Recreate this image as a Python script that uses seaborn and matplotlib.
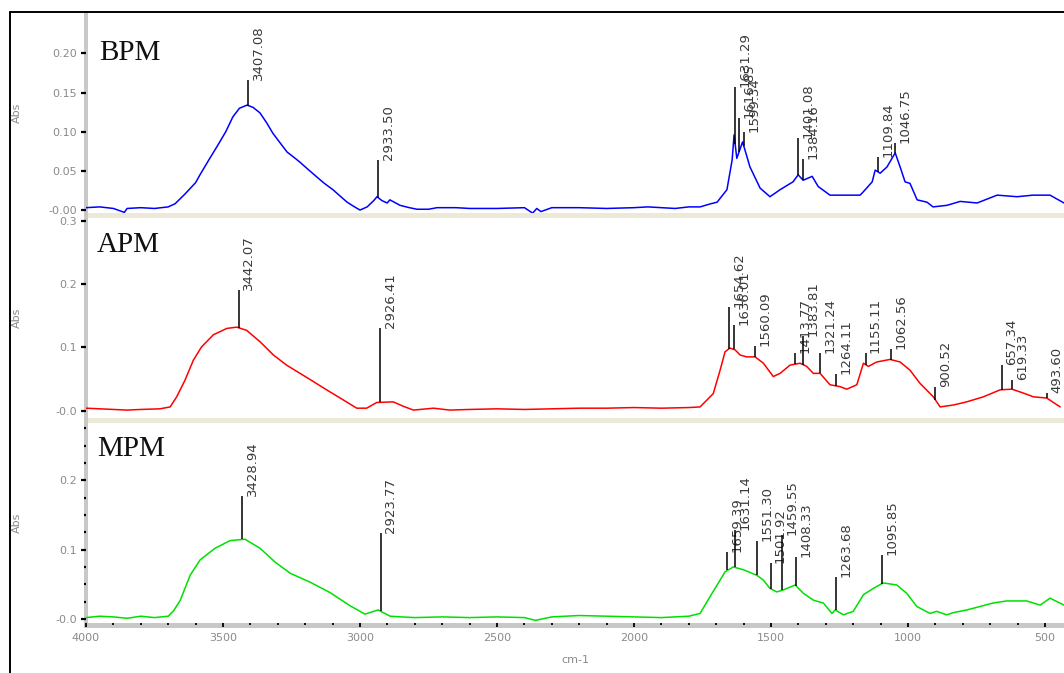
import numpy as np
import pandas as pd
import matplotlib
matplotlib.use("Agg")
import matplotlib.pyplot as plt
import seaborn as sns
from matplotlib.patches import Rectangle
from matplotlib.lines import Line2D
from matplotlib.ticker import FixedLocator, FixedFormatter, MultipleLocator

# ---------------- data ----------------
bpm_wn = [4000, 3950, 3900, 3860, 3850, 3800, 3750, 3700, 3675, 3640, 3600, 3584, 3550, 3522,
          3490, 3464, 3440, 3412, 3390, 3365, 3340, 3318, 3290, 3266, 3240, 3219, 3190, 3157,
          3130, 3099, 3070, 3047, 3020, 3000, 2974, 2950, 2938, 2920, 2901, 2891, 2870, 2854,
          2820, 2792, 2750, 2719, 2650, 2600, 2500, 2400, 2370, 2355, 2340, 2300, 2200, 2100,
          2000, 1950, 1900, 1850, 1800, 1759, 1720, 1697, 1661, 1642, 1635, 1625, 1604, 1577,
          1540, 1504, 1467, 1420, 1401, 1383, 1350, 1328, 1285, 1250, 1200, 1175, 1164, 1131,
          1120, 1102, 1077, 1047, 1029, 1011, 993, 967, 931, 909, 858, 810, 748, 675, 602,
          544, 482, 431]
bpm_abs = [0.003, 0.004, 0.002, -0.003, 0.002, 0.003, 0.002, 0.004, 0.008, 0.020, 0.035, 0.045,
           0.065, 0.081, 0.100, 0.119, 0.130, 0.134, 0.131, 0.124, 0.111, 0.098, 0.085, 0.074,
           0.067, 0.061, 0.052, 0.042, 0.034, 0.026, 0.017, 0.010, 0.004, 0.000, 0.004, 0.012,
           0.017, 0.012, 0.009, 0.013, 0.009, 0.006, 0.003, 0.001, 0.001, 0.003, 0.003, 0.002,
           0.002, 0.003, -0.004, 0.002, -0.002, 0.003, 0.003, 0.002, 0.003, 0.004, 0.003, 0.002,
           0.004, 0.004, 0.008, 0.010, 0.026, 0.064, 0.096, 0.066, 0.087, 0.055, 0.028, 0.017,
           0.026, 0.036, 0.045, 0.038, 0.043, 0.030, 0.019, 0.019, 0.019, 0.019, 0.023, 0.036,
           0.051, 0.047, 0.055, 0.073, 0.055, 0.036, 0.034, 0.013, 0.010, 0.004, 0.006, 0.011,
           0.009, 0.019, 0.017, 0.019, 0.019, 0.009]

apm_wn = [4000, 3950, 3900, 3851, 3800, 3730, 3693, 3669, 3639, 3608, 3578, 3535, 3486, 3450,
          3414, 3365, 3316, 3268, 3219, 3170, 3122, 3061, 3012, 2976, 2939, 2879, 2842, 2805,
          2732, 2672, 2600, 2500, 2400, 2300, 2200, 2100, 2000, 1900, 1800, 1759, 1711, 1686,
          1668, 1650, 1631, 1613, 1589, 1558, 1528, 1492, 1467, 1431, 1394, 1370, 1346, 1321,
          1285, 1248, 1224, 1187, 1163, 1145, 1114, 1066, 1029, 993, 956, 908, 883, 835, 786,
          725, 664, 621, 580, 543, 494, 445]
apm_abs = [0.004, 0.003, 0.002, 0.001, 0.002, 0.003, 0.006, 0.022, 0.048, 0.080, 0.101, 0.120,
           0.130, 0.132, 0.127, 0.109, 0.088, 0.072, 0.059, 0.046, 0.033, 0.017, 0.004, 0.004,
           0.013, 0.014, 0.007, 0.001, 0.004, 0.001, 0.002, 0.003, 0.002, 0.003, 0.004, 0.004,
           0.005, 0.004, 0.005, 0.006, 0.027, 0.064, 0.093, 0.099, 0.096, 0.088, 0.085, 0.085,
           0.075, 0.054, 0.059, 0.072, 0.075, 0.070, 0.059, 0.059, 0.041, 0.038, 0.034, 0.041,
           0.075, 0.070, 0.077, 0.081, 0.077, 0.064, 0.043, 0.022, 0.006, 0.009, 0.014, 0.022,
           0.033, 0.034, 0.028, 0.022, 0.020, 0.006]

mpm_wn = [4000, 3950, 3900, 3850, 3800, 3750, 3700, 3680, 3656, 3620, 3584, 3529, 3474, 3420,
          3365, 3310, 3255, 3182, 3109, 3036, 2982, 2934, 2890, 2850, 2800, 2700, 2600, 2500,
          2400, 2360, 2300, 2200, 2100, 2000, 1900, 1800, 1759, 1723, 1686, 1668, 1638, 1601,
          1552, 1528, 1504, 1479, 1455, 1412, 1382, 1345, 1309, 1278, 1266, 1236, 1200, 1163,
          1127, 1091, 1041, 1005, 968, 920, 896, 859, 836, 786, 737, 690, 640, 567, 518, 482, 431]
mpm_abs = [0.002, 0.004, 0.003, 0.001, 0.004, 0.002, 0.004, 0.012, 0.027, 0.063, 0.085, 0.102,
           0.113, 0.115, 0.102, 0.082, 0.066, 0.053, 0.038, 0.019, 0.007, 0.013, 0.004, 0.003,
           0.002, 0.003, 0.002, 0.003, 0.002, -0.002, 0.003, 0.005, 0.004, 0.003, 0.002, 0.004,
           0.008, 0.032, 0.056, 0.068, 0.075, 0.071, 0.063, 0.056, 0.044, 0.039, 0.042, 0.049,
           0.037, 0.027, 0.023, 0.008, 0.013, 0.006, 0.011, 0.035, 0.044, 0.052, 0.049, 0.037,
           0.018, 0.008, 0.011, 0.006, 0.009, 0.013, 0.018, 0.023, 0.026, 0.026, 0.020, 0.030,
           0.020]

bpm_peaks = [3407.08, 2933.50, 1631.29, 1616.85, 1599.34, 1401.08, 1384.16, 1109.84, 1046.75]
bpm_tops = [0.166, 0.064, 0.157, 0.117, 0.100, 0.092, 0.065, 0.068, 0.086]
bpm_peak_labels = ["3407.08", "2933.50", "1631.29", "1616.85", "1599.34", "1401.08", "1384.16",
                   "1109.84", "1046.75"]

apm_peaks = [3442.07, 2926.41, 1654.62, 1636.01, 1560.09, 1413.77, 1383.81, 1321.24, 1264.11,
             1155.11, 1062.56, 900.52, 657.34, 619.33, 493.60]
apm_tops = [0.190, 0.130, 0.164, 0.135, 0.102, 0.091, 0.118, 0.091, 0.058, 0.091, 0.097, 0.038,
            0.072, 0.049, 0.028]
apm_peak_labels = ["3442.07", "2926.41", "1654.62", "1636.01", "1560.09", "1413.77", "1383.81",
                   "1321.24", "1264.11", "1155.11", "1062.56", "900.52", "657.34", "619.33",
                   "493.60"]

mpm_peaks = [3428.94, 2923.77, 1659.39, 1631.14, 1551.30, 1501.92, 1459.55, 1408.33, 1263.68,
             1095.85]
mpm_tops = [0.177, 0.124, 0.097, 0.128, 0.112, 0.081, 0.121, 0.090, 0.060, 0.092]
mpm_peak_labels = ["3428.94", "2923.77", "1659.39", "1631.14", "1551.30", "1501.92", "1459.55",
                   "1408.33", "1263.68", "1095.85"]

panel_names = ["BPM", "APM", "MPM"]
bpm_yticks = [0.0, 0.05, 0.10, 0.15, 0.20]
bpm_yticklabels = ["-0.00", "0.05", "0.10", "0.15", "0.20"]
apm_yticks = [0.0, 0.1, 0.2, 0.3]
apm_yticklabels = ["-0.0", "0.1", "0.2", "0.3"]
mpm_yticks = [0.0, 0.1, 0.2]
mpm_yticklabels = ["-0.0", "0.1", "0.2"]
x_ticks = [4000, 3500, 3000, 2500, 2000, 1500, 1000, 500]
x_ticklabels = ["4000", "3500", "3000", "2500", "2000", "1500", "1000", "500"]

# ---------------- layout ----------------
sns.set_style("white")
plt.rcParams["font.family"] = ["DejaVu Sans"]

W, H = 1064, 673
fig = plt.figure(figsize=(W / 100, H / 100), dpi=100)
fig.patch.set_facecolor("white")


def fx(px):
    return px / W


def fy(py):
    return 1 - py / H


AX_L, AX_R = 86, 1064
panel_px = [(12.7, 213), (218, 418), (422, 623)]
ylims = [(-0.0038, 0.252), (-0.0115, 0.3044), (-0.0058, 0.284)]
colors = ["#0000ff", "#ff0000", "#00e000"]
spectra = [(bpm_wn, bpm_abs), (apm_wn, apm_abs), (mpm_wn, mpm_abs)]
peaks = [(bpm_peaks, bpm_tops, bpm_peak_labels), (apm_peaks, apm_tops, apm_peak_labels),
         (mpm_peaks, mpm_tops, mpm_peak_labels)]
yt = [(bpm_yticks, bpm_yticklabels), (apm_yticks, apm_yticklabels), (mpm_yticks, mpm_yticklabels)]
title_pos = [(99, 59.5), (97, 252.5), (97, 456.5)]

GRAY_TXT = "#8a8a8a"

for i in range(3):
    top, bot = panel_px[i]
    ax = fig.add_axes([fx(AX_L), fy(bot), fx(AX_R) - fx(AX_L), (bot - top) / H])
    ax.patch.set_alpha(0)
    df = pd.DataFrame({"wn": spectra[i][0], "abs": spectra[i][1]})
    sns.lineplot(data=df, x="wn", y="abs", ax=ax, color=colors[i], sort=False,
                 estimator=None, lw=1.1, legend=False)
    ax.set_xlim(4000, 431)
    ax.set_ylim(*ylims[i])
    for s in ax.spines.values():
        s.set_visible(False)

    # peak markers
    pw, ptop, plab = peaks[i]
    wn_arr = np.array(spectra[i][0], dtype=float)[::-1]
    ab_arr = np.array(spectra[i][1], dtype=float)[::-1]
    base = np.interp(pw, wn_arr, ab_arr)
    ax.vlines(pw, base, ptop, color="black", lw=1.1, zorder=4)
    for w, t, lab in zip(pw, ptop, plab):
        ax.annotate(lab, xy=(w, t), xytext=(2.5, 0), textcoords="offset points",
                    rotation=90, ha="left", va="bottom", fontsize=9.5, color="#3a3a3a",
                    annotation_clip=False)

    # y axis
    ax.yaxis.set_major_locator(FixedLocator(yt[i][0]))
    ax.yaxis.set_major_formatter(FixedFormatter(yt[i][1]))
    ax.tick_params(axis="y", which="major", direction="out", length=3.8, width=1.6,
                   color="black", labelcolor=GRAY_TXT, labelsize=8, pad=2.5, left=True)
    ax.set_ylabel("Abs", color=GRAY_TXT, fontsize=8)
    ax.yaxis.set_label_coords((22 - AX_L) / (AX_R - AX_L), 0.5)

    if i < 2:
        ax.set_xticks([])
        ax.set_xlabel("")
    else:
        ax.yaxis.set_minor_locator(MultipleLocator(0.025))
        ax.tick_params(axis="y", which="minor", direction="out", length=1.2, width=1.6,
                       color="black", left=True)
        ax.xaxis.set_major_locator(FixedLocator(x_ticks))
        ax.xaxis.set_major_formatter(FixedFormatter(x_ticklabels))
        ax.xaxis.set_minor_locator(MultipleLocator(100))
        ax.tick_params(axis="x", which="major", direction="out", length=3.0, width=1.3,
                       color="black", labelcolor=GRAY_TXT, labelsize=8, pad=4, bottom=True)
        ax.tick_params(axis="x", which="minor", direction="out", length=1.5, width=1.3,
                       color="black", bottom=True)
        ax.set_xlabel("cm-1", color=GRAY_TXT, fontsize=8)
        ax.xaxis.set_label_coords(0.5, -(655 - bot) / (bot - top))

    tx, ty = title_pos[i]
    fig.text(fx(tx), fy(ty), panel_names[i], fontsize=21, family="Liberation Serif",
             va="baseline", ha="left", color="#111111")

# separator bands and axis bars
fig.add_artist(Rectangle((fx(AX_L), fy(218)), 1 - fx(AX_L), 5 / H, transform=fig.transFigure,
                         facecolor="#ece9d8", edgecolor="none", zorder=-1))
fig.add_artist(Rectangle((fx(AX_L), fy(422.5)), 1 - fx(AX_L), 4.5 / H, transform=fig.transFigure,
                         facecolor="#ece9d8", edgecolor="none", zorder=-1))
fig.add_artist(Rectangle((fx(84), fy(627.5)), 1 - fx(84), 4.5 / H, transform=fig.transFigure,
                         facecolor="#c8c8c8", edgecolor="none", zorder=-1))
fig.add_artist(Rectangle((fx(84), fy(627.5)), 4 / W, (627.5 - 12) / H, transform=fig.transFigure,
                         facecolor="#c8c8c8", edgecolor="none", zorder=-1))

# outer frame
fig.add_artist(Line2D([fx(9.5), fx(9.5)], [0, fy(12)], transform=fig.transFigure,
                      color="black", lw=1.4))
fig.add_artist(Line2D([fx(9.5), 1], [fy(12), fy(12)], transform=fig.transFigure,
                      color="black", lw=1.4))

fig.savefig("out.png", dpi=100)
